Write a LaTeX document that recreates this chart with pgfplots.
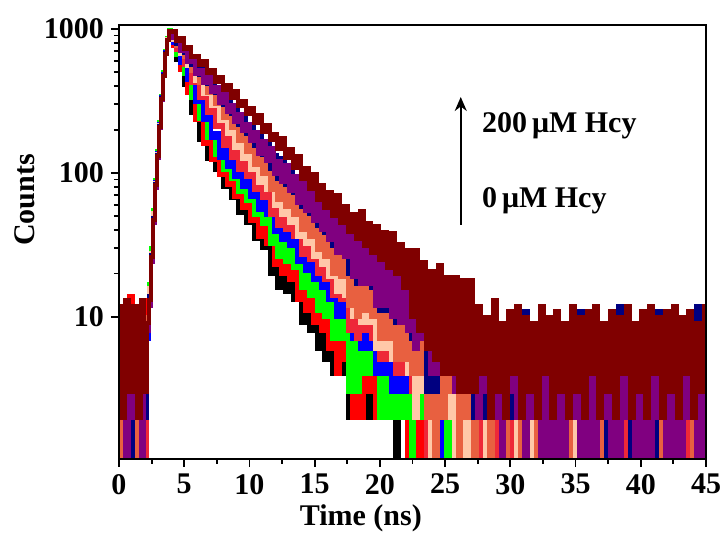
\documentclass[border=0pt]{standalone}
\usepackage{fontspec}
\setmainfont{Liberation Serif}
\usepackage{pgfplots}
\pgfplotsset{compat=1.18}
\usepackage{pgfplotstable}
\usetikzlibrary{arrows.meta}
\definecolor{cblack}{RGB}{0,0,0}
\definecolor{cred}{RGB}{255,0,0}
\definecolor{cgreen}{RGB}{0,255,0}
\definecolor{cblue}{RGB}{0,0,255}
\definecolor{ccrimson}{RGB}{238,40,56}
\definecolor{cpeach}{RGB}{255,200,168}
\definecolor{ccoral}{RGB}{232,96,64}
\definecolor{colive}{RGB}{128,128,0}
\definecolor{cnavy}{RGB}{0,0,128}
\definecolor{cpurple}{RGB}{128,0,128}
\definecolor{cdarkred}{RGB}{128,0,0}
\pgfplotstableread{
t bk rd gr bl cr pe co ol nv pu dr
0.0 4 1 6 0.5 7 1 8 2 10 2 12
0.3 0.5 8 1 6 1 9 1 7 2 8 2
0.6 5 0.5 7 1 6 2 9 1 9 0.5 13
0.9 1 14 0.5 8 1 7 2 8 1 9 3
1.2 6 1 5 0.5 8 1 7 2 11 2 12
1.5 0.5 9 1 7 0.5 8 1 6 2 8 2
1.8 4 1 9 1 7 2 8 1 10 0.5 13
2.1 1 13 0.5 9 1 8 2 9 2 9 3
2.25 8 10 9 7 9 8 10 7 9 8 9
2.4 15 13 17 14 12 16 13 15 14 12 13
2.55 29 26 30 27 25 28 26 27 27 24 26
2.7 52 47 55 50 46 53 48 51 49 45 47
2.85 88 82 90 86 80 85 83 85 84 79 82
3.0 140 131 143 138 129 136 133 137 134 128 131
3.15 222 210 226 218 207 214 211 216 213 205 209
3.3 340 326 345 335 322 331 328 333 330 320 325
3.45 495 478 500 487 472 482 476 484 478 468 472
3.6 700 682 705 690 671 684 676 688 679 668 672
3.75 865 842 870 855 835 850 842 853 845 832 840
3.9 985 962 990 975 958 970 964 972 966 955 968
4.05 885 895 905 915 905 935 920 935 930 945 955
4.2 845 767 878 799 911 837 939 841 951 861 966
4.5 612 721 664 778 719 848 764 857 787 870 829
4.8 584 515 654 583 729 668 796 680 829 700 864
5.1 411 499 484 581 566 689 641 705 678 707 727
5.4 387 359 468 439 563 552 653 568 698 586 748
5.7 259 356 332 446 423 573 512 593 558 619 638
6.0 260 233 339 313 438 433 539 452 593 489 652
6.3 169 237 238 321 329 453 424 475 477 518 559
6.6 191 159 265 233 366 353 474 374 534 422 601
6.9 124 177 175 254 262 386 359 408 415 463 491
7.2 147 123 188 174 280 290 385 310 445 366 517
7.5 104 145 133 188 208 310 302 332 359 394 431
7.8 126 97 158 127 228 228 330 247 391 306 465
8.1 80 130 105 163 154 264 242 286 296 351 378
8.4 105 83 133 110 179 186 275 205 334 267 408
8.7 67 106 91 138 127 212 204 233 256 298 331
9.0 92 68 119 93 158 149 237 167 294 226 369
9.3 53 89 74 119 105 173 166 193 215 257 290
9.6 74 57 97 80 132 125 193 140 247 196 317
9.9 45 74 64 102 93 147 140 162 187 220 255
10.2 62 46 83 68 115 104 163 115 213 166 282
10.5 35 66 51 92 76 131 114 143 154 194 223
10.8 55 36 75 55 104 85 145 94 189 136 253
11.1 30 55 44 78 67 111 99 122 134 167 194
11.4 43 32 60 51 86 76 120 84 158 122 217
11.7 20 50 32 72 51 101 76 110 106 150 170
12.0 35 23 50 39 72 59 101 66 134 98 187
12.3 16 38 26 57 43 80 65 87 91 121 147
12.6 35 20 49 34 70 51 97 57 127 86 176
12.9 15 37 24 55 40 75 58 82 82 113 126
13.2 27 18 39 31 58 45 79 51 105 75 147
13.5 13 30 22 46 36 63 51 68 73 96 109
13.8 25 13 36 24 53 36 72 40 95 62 132
14.1 9 28 16 43 27 59 40 64 58 88 91
14.4 21 11 31 21 45 32 61 35 83 54 108
14.7 8 23 14 37 25 49 36 53 52 75 77
15.0 19 9 29 18 42 26 56 29 75 46 99
15.3 6 20 11 32 20 43 29 46 43 64 65
15.6 16 8 23 16 35 23 46 26 63 40 83
15.9 5 17 10 28 18 36 26 40 38 56 57
16.2 14 6 20 13 31 19 41 21 55 34 74
16.5 4 16 7 26 14 34 20 37 31 52 50
16.8 13 4 20 10 29 15 38 16 51 28 70
17.1 4 14 7 23 13 29 19 32 28 45 45
17.4 10 5 16 10 24 14 31 16 42 26 59
17.7 2 13 3 22 8 28 12 30 20 41 39
18.0 8 2 13 7 20 10 26 11 36 19 52
18.3 2 10 3 17 7 21 10 23 17 33 35
18.6 10 2 15 6 22 9 28 10 37 17 54
18.9 2 11 4 18 8 22 11 24 17 33 31
19.2 8 3 12 6 17 9 22 10 30 17 45
19.5 2 9 4 15 7 18 10 20 16 28 28
19.8 8 2 11 4 17 6 21 7 29 12 43
20.1 2 9 2 15 5 18 7 20 11 28 25
20.4 7 2 10 4 15 6 18 7 25 12 39
20.7 2 8 2 13 5 16 7 17 11 23 22
21.0 7 2 10 3 15 5 18 5 24 10 38
21.3 0.5 7 2 12 4 14 5 15 9 21 20
21.6 6 2 8 3 12 5 15 5 20 9 32
21.9 2 6 2 10 4 12 5 13 9 18 16
22.2 5 0.5 8 3 11 4 14 4 18 8 29
22.5 0.5 7 1 11 3 12 4 13 7 20 10
22.8 6 0.5 8 2 11 2 14 3 18 6 29
23.1 0.5 6 2 10 3 11 4 12 7 17 8
23.4 4 1 7 3 9 3 11 4 15 7 24
23.7 2 6 0.5 10 1 11 2 12 3 17 6
24.0 4 0.5 6 1 8 1 10 2 13 4 21
24.3 0.5 5 0.5 7 1 8 1 9 3 13 5
24.6 5 0.5 7 1 10 2 12 2 15 4 23
24.9 0.5 6 1 9 2 10 2 10 4 15 4
25.2 4 0.5 6 2 8 2 9 2 12 5 19
25.5 0.5 5 1 8 2 8 3 9 4 13 4
25.8 4 0.5 6 1 8 1 10 2 13 3 19
26.1 0.5 6 0.5 8 1 9 1 10 3 13 3
26.4 4 0.5 6 1 8 1 9 2 11 3 18
26.7 0.5 5 0.5 7 1 8 2 8 3 12 3
27.0 4 0.5 6 1 8 1 9 2 12 3 18
27.3 0.5 4 1 6 1 6 1 7 2 8 3
27.6 3 0.5 4 1 6 2 7 2 9 2 12
27.9 0.5 3 0.5 5 1 7 2 6 2 9 4
28.2 2 1 5 1 5 1 8 2 8 3 10
28.5 0.5 5 1 7 0.5 5 1 8 2 7 2
28.8 4 0.5 3 1 7 2 6 2 10 2 13
29.1 0.5 3 0.5 4 1 6 2 7 2 8 3
29.4 2 1 4 0.5 5 1 7 2 7 1 9
29.7 0.5 4 1 6 1 7 1 5 2 9 2
30.0 3 0.5 5 1 6 2 8 2 9 3 11
30.3 0.5 5 0.5 5 1 5 2 6 2 6 4
30.6 2 1 3 1 4 1 6 2 8 2 12
30.9 0.5 3 1 7 0.5 6 1 8 2 8 2
31.2 4 0.5 4 0.5 7 2 5 2 11 1 10
31.5 0.5 4 0.5 4 1 7 2 5 2 7 3
31.8 2 1 5 1 5 1 7 2 7 2 9
32.1 0.5 3 1 6 1 5 1 6 2 9 2
32.4 3 0.5 3 1 6 2 8 2 9 1 12
32.7 0.5 5 0.5 5 0.5 6 2 7 2 6 4
33.0 2 1 4 0.5 4 1 6 2 8 1 10
33.3 0.5 3 1 7 1 5 1 5 2 8 2
33.6 3 1 5 1 6 1 7 1 10 1 11
33.9 0.5 4 0.5 4 1 6 2 8 1 9 3
34.2 2 0.5 3 1 5 2 5 2 7 1 9
34.5 0.5 5 1 6 0.5 7 1 6 2 7 2
34.8 4 1 4 0.5 7 1 8 1 9 2 12
35.1 0.5 3 0.5 5 1 5 2 7 2 8 3
35.4 2 1 5 1 4 2 6 2 11 1 10
35.7 0.5 4 1 7 1 6 1 5 1 9 2
36.0 3 0.5 3 1 6 1 7 1 8 1 11
36.3 0.5 5 0.5 4 1 7 2 8 2 6 4
36.6 2 1 4 1 5 2 5 2 10 1 12
36.9 0.5 3 1 6 0.5 5 1 6 2 8 2
37.2 4 1 5 0.5 7 1 8 1 9 2 9
37.5 0.5 4 0.5 5 1 6 2 7 1 9 3
37.8 2 0.5 3 1 4 2 6 2 8 1 11
38.1 0.5 5 1 7 1 7 1 5 2 7 2
38.4 3 1 4 1 6 1 7 1 12 1 10
38.7 0.5 3 0.5 4 0.5 5 2 8 2 8 4
39.0 2 1 5 0.5 5 2 5 2 7 2 12
39.3 0.5 4 1 6 1 6 1 6 1 9 2
39.6 4 0.5 3 1 7 1 8 1 9 1 9
39.9 0.5 5 0.5 5 1 7 2 7 2 6 3
40.2 2 1 4 1 4 2 6 2 10 1 11
40.5 0.5 3 1 7 0.5 5 1 5 2 8 2
40.8 3 1 5 0.5 6 1 7 1 8 1 12
41.1 0.5 4 0.5 4 1 6 2 8 1 9 4
41.4 2 0.5 3 1 5 2 5 2 11 2 10
41.7 0.5 5 1 6 1 7 1 6 2 7 2
42.0 4 1 4 1 7 1 8 1 9 1 11
42.3 0.5 3 0.5 5 0.5 5 2 7 2 9 3
42.6 2 1 5 0.5 4 2 6 2 7 1 12
42.9 0.5 4 1 7 1 6 1 5 1 8 2
43.2 3 0.5 3 1 6 1 7 1 10 1 10
43.5 0.5 5 0.5 4 1 7 2 8 2 6 4
43.8 2 1 4 1 5 2 5 2 9 2 11
44.1 0.5 3 1 6 0.5 5 1 6 2 9 2
44.4 4 1 5 0.5 7 1 8 1 12 1 9
44.7 0.5 4 0.5 5 1 6 2 7 1 8 3
45.0 2 0.5 3 1 5 2 6 2 10 1 12
}\decaydata
\begin{document}
\begin{tikzpicture}
\path[use as bounding box] (-59.5pt,-39.5pt) rectangle (302.5pt,229.5pt);
\begin{axis}[
  at={(0,0)}, anchor=south west,
  scale only axis, width=293.5pt, height=217pt,
  ymode=log, xmin=0, xmax=45, ymin=1.03, ymax=1066,
  xtick={0,5,...,45}, minor x tick num=1,
  ytick={10,100,1000}, yticklabels={10,100,1000},
  xtick pos=bottom, ytick pos=left, tick align=outside,
  major tick length=4pt, minor tick length=2.5pt,
  every tick/.style={black, line width=0.9pt},
  axis line style={line width=1.1pt},
  /pgf/number format/assume math mode=true,
  tick label style={font=\fontsize{15}{18}\selectfont\bfseries},
  xlabel={Time (ns)}, ylabel={Counts},
  label style={font=\fontsize{15}{18}\selectfont\bfseries},
  xlabel style={at={(axis description cs:0.412,-0.136)}, anchor=center},
  ylabel style={at={(axis description cs:-0.16,0.597)}, anchor=center},
  axis on top,
  every axis plot/.append style={const plot mark mid, line width=2pt, line join=miter},
  no markers,
]
\addplot[colive] table[x=t,y=ol] {\decaydata};
\addplot[cblack] table[x=t,y=bk] {\decaydata};
\addplot[cred] table[x=t,y=rd] {\decaydata};
\addplot[cgreen] table[x=t,y=gr] {\decaydata};
\addplot[cblue] table[x=t,y=bl] {\decaydata};
\addplot[ccrimson] table[x=t,y=cr] {\decaydata};
\addplot[cpeach] table[x=t,y=pe] {\decaydata};
\addplot[ccoral] table[x=t,y=co] {\decaydata};
\addplot[cnavy] table[x=t,y=nv] {\decaydata};
\addplot[cpurple] table[x=t,y=pu] {\decaydata};
\addplot[cdarkred] table[x=t,y=dr] {\decaydata};
\draw[line width=1pt, -{Stealth[length=7pt,width=6pt]}] (axis cs:26.2,43.5) -- (axis cs:26.2,337);
\node[anchor=base west, font=\fontsize{15}{18}\selectfont\bfseries, inner sep=0pt] at (axis cs:27.8,190) {200\,μM Hcy};
\node[anchor=base west, font=\fontsize{15}{18}\selectfont\bfseries, inner sep=0pt] at (axis cs:27.8,57.2) {0\,μM Hcy};
\end{axis}
\end{tikzpicture}
\end{document}
